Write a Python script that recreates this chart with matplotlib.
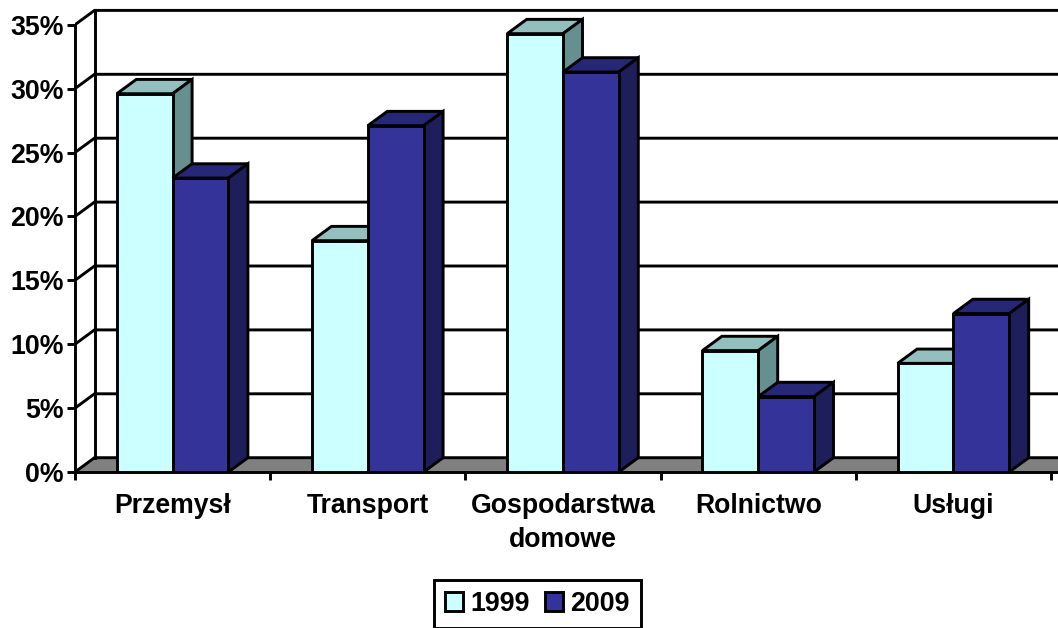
import numpy as np
import matplotlib
matplotlib.use('Agg')
import matplotlib.pyplot as plt
from matplotlib.patches import Patch

plt.rcParams['font.family'] = ['Liberation Sans', 'DejaVu Sans']

categories = ['Przemysł', 'Transport', 'Gospodarstwa\ndomowe', 'Rolnictwo', 'Usługi']
values_1999 = [29.6, 18.1, 34.3, 9.5, 8.5]
values_2009 = [23.0, 27.1, 31.3, 5.9, 12.4]
y_ticks = [0, 5, 10, 15, 20, 25, 30, 35]
y_labels = ['0%', '5%', '10%', '15%', '20%', '25%', '30%', '35%']

# colours: front, top, side
LIGHT = ('#CCFFFF', '#93BFBF', '#668F8F')
DARK = ('#333399', '#272777', '#1E1E5A')
FLOOR = '#808080'

W, H = 1058, 628
x0_px, y0_px = 75, 472
cat_px = 195.2
pct_px = 12.78

xmax = (W - x0_px) / cat_px
ymax = y0_px / pct_px
dx = 19.5 / cat_px     # fake 3d depth
dy = 14.3 / pct_px
bar_w = 55.8 / cat_px
LW = 2.1

fig = plt.figure(figsize=(W / 100, H / 100), dpi=100)
ax = fig.add_axes([x0_px / W, (H - y0_px) / H, 1 - x0_px / W, y0_px / H])
ax.set_xlim(0, xmax)
ax.set_ylim(0, ymax)
for s in ['top', 'right', 'bottom', 'left']:
    ax.spines[s].set_visible(False)
ax.patch.set_visible(False)

# floor and back wall
ax.fill([0, dx, xmax + dx, xmax], [0, dy, dy, 0], color=FLOOR, lw=0, zorder=1)
for v in y_ticks:
    ax.plot([0, dx, xmax], [v, v + dy, v + dy], color='black', lw=LW, zorder=2,
            solid_joinstyle='miter')
ax.plot([dx, dx], [dy, 35 + dy], color='black', lw=LW, zorder=2)
ax.plot([0, 0], [0, 35], color='black', lw=LW, zorder=2, clip_on=False)
ax.plot([0, xmax], [0, 0], color='black', lw=LW, zorder=2, clip_on=False)


def bar3d(x, v, cols, z):
    ax.fill([x, x + dx, x + bar_w + dx, x + bar_w], [v, v + dy, v + dy, v],
            facecolor=cols[1], edgecolor='black', lw=LW, zorder=z, joinstyle='miter')
    ax.fill([x + bar_w, x + bar_w + dx, x + bar_w + dx, x + bar_w], [0, dy, v + dy, v],
            facecolor=cols[2], edgecolor='black', lw=LW, zorder=z, joinstyle='miter')
    ax.bar(x, v, bar_w, align='edge', color=cols[0], edgecolor='black', lw=LW, zorder=z)


centers = np.arange(len(categories)) + 0.5
for i, c in enumerate(centers):
    z = 3 + i * 2
    bar3d(c - bar_w, values_1999[i], LIGHT, z)
    bar3d(c, values_2009[i], DARK, z + 1)

ax.set_yticks(y_ticks)
ax.set_yticklabels(y_labels, fontsize=19.3, fontweight='bold')
ax.set_xticks(np.arange(len(categories) + 1))
ax.set_xticklabels([])
ax.set_xticks(centers, minor=True)
ax.set_xticklabels(categories, minor=True, fontsize=19.2, fontweight='bold',
                   linespacing=1.4)
ax.tick_params(axis='both', which='major', length=6, width=LW, color='black')
ax.tick_params(axis='y', pad=2)
ax.tick_params(axis='x', which='minor', length=0, pad=15)

handles = [Patch(facecolor=LIGHT[0], edgecolor='black', lw=LW, label='1999'),
           Patch(facecolor=DARK[0], edgecolor='black', lw=LW, label='2009')]
leg = fig.legend(handles=handles, loc='center', bbox_to_anchor=(537.5 / W, (H - 604) / H),
                 ncol=2, prop={'size': 19.3, 'weight': 'bold'}, fancybox=False, framealpha=1,
                 edgecolor='black', handlelength=0.68, handleheight=0.68, handletextpad=0.28,
                 columnspacing=0.55, borderpad=0.42, borderaxespad=0)
leg.get_frame().set_linewidth(LW)

fig.savefig('out.png', dpi=100)
